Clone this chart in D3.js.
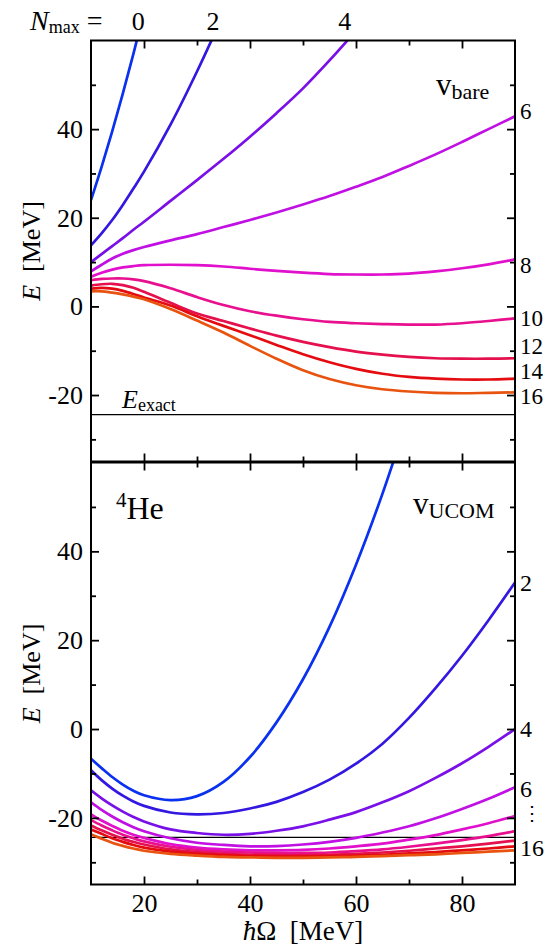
<!DOCTYPE html>
<html>
<head>
<meta charset="utf-8">
<script src="https://cdn.jsdelivr.net/npm/d3@7"></script>
<style>
  body { margin: 0; background: #fff; }
</style>
</head>
<body>
<svg id="chart" width="549" height="945"></svg>
<script>
// hbar Omega grid [MeV]
const hw = [10, 12, 14, 16, 18, 20, 25, 30, 35, 40, 45, 50, 55, 60, 65, 70, 75, 80, 85, 90];
const nmax = [0, 2, 4, 6, 8, 10, 12, 14, 16];

// v_bare energies E [MeV], one array per N_max (null = off the chart)
const bare0  = [24, 31.5, 39.5, 48, 57, 66.5, null, null, null, null, null, null, null, null, null, null, null, null, null, null];
const bare2  = [13.8, 16.5, 19.5, 22.9, 26.6, 30.4, 41, 53, 66, null, null, null, null, null, null, null, null, null, null, null];
const bare4  = [10, 11.8, 13.6, 15.4, 17.3, 19.1, 23.8, 28.5, 33.3, 38.3, 43.6, 49.2, 55.5, 62.2, null, null, null, null, null, null];
const bare6  = [7.9, 9.4, 10.8, 11.9, 12.7, 13.4, 14.9, 16.3, 17.9, 19.5, 21.2, 23, 24.9, 27, 29.2, 31.7, 34.3, 37.1, 40, 42.9];
const bare8  = [6.7, 7.6, 8.3, 8.8, 9.1, 9.3, 9.4, 9.3, 9.0, 8.5, 8.0, 7.6, 7.3, 7.2, 7.2, 7.4, 7.9, 8.6, 9.5, 10.6];
const bare10 = [5.9, 6.2, 6.3, 6.3, 6.1, 5.7, 4.1, 2.1, 0.3, -1.1, -2.1, -2.9, -3.5, -3.8, -4.0, -4.1, -4.1, -3.8, -3.3, -2.7];
const bare12 = [4.7, 5.0, 5.1, 4.8, 4.2, 3.3, 0.8, -1.6, -3.3, -5.0, -6.6, -8.0, -9.2, -10.2, -10.9, -11.4, -11.7, -11.8, -11.8, -11.7];
const bare14 = [4.0, 4.2, 4.0, 3.5, 2.8, 2.0, 0.2, -2.2, -4.4, -6.5, -8.7, -10.8, -12.6, -14.1, -15.2, -15.9, -16.3, -16.5, -16.5, -16.3];
const bare16 = [3.4, 3.4, 3.1, 2.7, 2.2, 1.6, -0.6, -3.2, -5.9, -8.9, -11.8, -14.4, -16.4, -17.8, -18.7, -19.2, -19.5, -19.6, -19.5, -19.4];

// v_UCOM energies E [MeV]
const ucom0  = [-6.7, -8.8, -10.8, -12.5, -13.9, -14.9, -16.0, -15.1, -11.9, -6.3, 1.5, 11.2, 23, 37, 53, 71, null, null, null, null];
const ucom2  = [-9.3, -11.5, -13.4, -15.0, -16.3, -17.3, -18.8, -19.2, -18.9, -17.9, -16.4, -14.2, -11.4, -7.8, -3.3, 2.5, 9.2, 16.5, 24.5, 33];
const ucom4  = [-13.8, -15.6, -17.2, -18.6, -19.8, -20.8, -22.6, -23.4, -23.8, -23.6, -22.9, -21.9, -20.4, -18.7, -16.5, -14.0, -11.0, -7.7, -4.0, 0];
const ucom6  = [-16.5, -18.2, -19.7, -21.0, -22.1, -23.0, -24.6, -25.6, -26.1, -26.4, -26.35, -26.0, -25.4, -24.5, -23.3, -21.9, -20.1, -18.0, -15.7, -13.1];
const ucom8  = [-19.2, -20.6, -21.8, -22.9, -23.8, -24.5, -25.9, -26.7, -27.1, -27.3, -27.3, -27.2, -26.9, -26.4, -25.8, -24.9, -23.9, -22.6, -21.2, -19.6];
const ucom10 = [-20.5, -21.7, -22.8, -23.8, -24.6, -25.3, -26.5, -27.2, -27.6, -27.8, -27.9, -27.9, -27.8, -27.5, -27.1, -26.5, -25.8, -25.0, -24.1, -23.0];
const ucom12 = [-21.7, -22.8, -23.8, -24.7, -25.4, -26.0, -27.1, -27.7, -28.1, -28.3, -28.4, -28.4, -28.3, -28.1, -27.8, -27.4, -26.9, -26.4, -25.8, -25.1];
const ucom14 = [-22.6, -23.6, -24.6, -25.4, -26.1, -26.7, -27.6, -28.1, -28.4, -28.6, -28.7, -28.7, -28.6, -28.5, -28.3, -28.0, -27.7, -27.3, -26.9, -26.4];
const ucom16 = [-23.7, -24.7, -25.6, -26.3, -26.9, -27.4, -28.1, -28.5, -28.8, -28.9, -29.0, -29.0, -28.9, -28.8, -28.6, -28.4, -28.2, -27.9, -27.6, -27.3];

const eExact = -24.4;

// tick values
const xMajor = [20, 40, 60, 80];
const xMinor = [30, 50, 70];
const yMajor = [-20, 0, 20, 40];
const yMinor = [-30, -10, 10, 30, 50];

// N_max labels: top (where curves leave the frame) and right side (E value of label)
const exitLabels = ["0", "2", "4"];
const exitHw = [18.9, 33, 57.9];
const bareLabels = ["6", "8", "10", "12", "14", "16"];
const bareLabelE = [44.2, 9.3, -2.7, -8.9, -14.6, -20.3];
const ucomLabels = ["2", "4", "6", "\u22EE", "16"];
const ucomLabelE = [33, 0, -13.3, -18.9, -26.6];

const colors = ["#0a30f0", "#3318e2", "#7a10e8", "#c010e4", "#e010cc", "#e8108e", "#e5104e", "#e40c10", "#e85410"];

const FONT = "'Liberation Serif', 'Times New Roman', 'DejaVu Serif', serif";

const bare = [bare0, bare2, bare4, bare6, bare8, bare10, bare12, bare14, bare16];
const ucom = [ucom0, ucom2, ucom4, ucom6, ucom8, ucom10, ucom12, ucom14, ucom16];

const svg = d3.select("#chart");
svg.append("rect").attr("width", 549).attr("height", 945).attr("fill", "#fff");

function txt(sel, size) {
    return sel.append("text").attr("font-family", FONT).attr("font-size", size).attr("fill", "#000");
}

const x = d3.scaleLinear().domain([10, 90]).range([91, 515]);
const yTop = d3.scaleLinear().domain([-35, 60]).range([461.5, 40.5]);
const yBot = d3.scaleLinear().domain([-35, 60]).range([884.5, 462.5]);

function panel(id, y, series, showX) {
    const g = svg.append("g");
    const x0 = x.range()[0], x1 = x.range()[1];
    const y0 = y.range()[1], y1 = y.range()[0];

    g.append("clipPath").attr("id", id)
        .append("rect").attr("x", x0).attr("y", y0).attr("width", x1 - x0).attr("height", y1 - y0);

    // exact energy
    g.append("line")
        .attr("x1", x0).attr("x2", x1)
        .attr("y1", y(eExact)).attr("y2", y(eExact))
        .attr("stroke", "#000").attr("stroke-width", 1.2);

    const line = d3.line()
        .defined(d => d[1] != null)
        .x(d => x(d[0])).y(d => y(d[1]))
        .curve(d3.curveCatmullRom.alpha(0.5));

    g.append("g").attr("clip-path", "url(#" + id + ")")
        .selectAll("path")
        .data(series)
        .join("path")
        .attr("d", s => line(hw.map((h, i) => [h, s[i]])))
        .attr("fill", "none")
        .attr("stroke", (s, i) => colors[i])
        .attr("stroke-width", 2.7)
        .attr("stroke-linejoin", "round");

    // ticks (inward)
    const axes = [
        [d3.axisBottom(x).tickValues(xMajor).tickSizeInner(-8).tickPadding(9), "translate(0," + y1 + ")", showX],
        [d3.axisBottom(x).tickValues(xMinor).tickSizeInner(-5), "translate(0," + y1 + ")", false],
        [d3.axisTop(x).tickValues(xMajor).tickSizeInner(-8), "translate(0," + y0 + ")", false],
        [d3.axisTop(x).tickValues(xMinor).tickSizeInner(-5), "translate(0," + y0 + ")", false],
        [d3.axisLeft(y).tickValues(yMajor).tickSizeInner(-8).tickPadding(8), "translate(" + x0 + ",0)", true],
        [d3.axisLeft(y).tickValues(yMinor).tickSizeInner(-5), "translate(" + x0 + ",0)", false],
        [d3.axisRight(y).tickValues(yMajor).tickSizeInner(-8), "translate(" + x1 + ",0)", false],
        [d3.axisRight(y).tickValues(yMinor).tickSizeInner(-5), "translate(" + x1 + ",0)", false]
    ];
    axes.forEach(([ax, tr, labels]) => {
        ax.tickSizeOuter(0);
        ax.tickFormat(labels ? (d => String(d)) : "");
        const a = g.append("g").attr("transform", tr).call(ax)
            .attr("font-family", FONT).attr("font-size", 26);
        a.select(".domain").remove();
        a.selectAll(".tick line").attr("stroke", "#000").attr("stroke-width", 1.8);
        a.selectAll(".tick text").attr("fill", "#000");
    });

    g.append("rect")
        .attr("x", x0).attr("y", y0).attr("width", x1 - x0).attr("height", y1 - y0)
        .attr("fill", "none").attr("stroke", "#000").attr("stroke-width", 2);

    // y title
    const t = txt(g, 26)
        .attr("transform", "translate(40," + ((y0 + y1) / 2) + ") rotate(-90)")
        .attr("text-anchor", "middle");
    t.append("tspan").attr("font-style", "italic").text("E");
    t.append("tspan").text("\u00A0\u00A0[MeV]");
    return g;
}

panel("clipTop", yTop, bare, false);
panel("clipBot", yBot, ucom, true);

// x title
const xt = txt(svg, 27).attr("x", 303).attr("y", 940).attr("text-anchor", "middle");
xt.append("tspan").attr("font-style", "italic").text("\u0127");
xt.append("tspan").text("\u03A9\u00A0\u00A0[MeV]");

// N_max = 0 2 4 along the top
const nm = txt(svg, 28).attr("x", 30).attr("y", 30);
nm.append("tspan").attr("font-style", "italic").text("N");
nm.append("tspan").attr("font-size", 18).attr("dy", 3).text("max");
nm.append("tspan").attr("dy", -3).text("\u00A0=");
exitLabels.forEach((d, i) => {
    txt(svg, 26).attr("x", x(exitHw[i])).attr("y", 30).attr("text-anchor", "middle").text(d);
});

// right-hand N_max labels
bareLabels.forEach((d, i) => {
    txt(svg, 23).attr("x", 520).attr("y", yTop(bareLabelE[i])).attr("dy", "0.35em").text(d);
});
ucomLabels.forEach((d, i) => {
    const t = txt(svg, 24).attr("x", 520).attr("y", yBot(ucomLabelE[i])).attr("dy", "0.35em").text(d);
    if (d === "\u22EE") t.attr("font-family", "'DejaVu Serif', serif").attr("font-size", 20).attr("x", 522);
});

// panel annotations
const vb = txt(svg, 31).attr("x", 436).attr("y", 95);
vb.append("tspan").text("v");
vb.append("tspan").attr("font-size", 22).attr("dy", 4).text("bare");

const vu = txt(svg, 31).attr("x", 413).attr("y", 514);
vu.append("tspan").text("v");
vu.append("tspan").attr("font-size", 22).attr("dy", 4).text("UCOM");

const he = txt(svg, 32).attr("x", 116).attr("y", 519);
he.append("tspan").attr("font-size", 21).attr("dy", -12).text("4");
he.append("tspan").attr("dy", 12).text("He");

const ex = txt(svg, 26).attr("x", 122).attr("y", 408);
ex.append("tspan").attr("font-style", "italic").text("E");
ex.append("tspan").attr("font-size", 18).attr("dy", 3).text("exact");
</script>
</body>
</html>
